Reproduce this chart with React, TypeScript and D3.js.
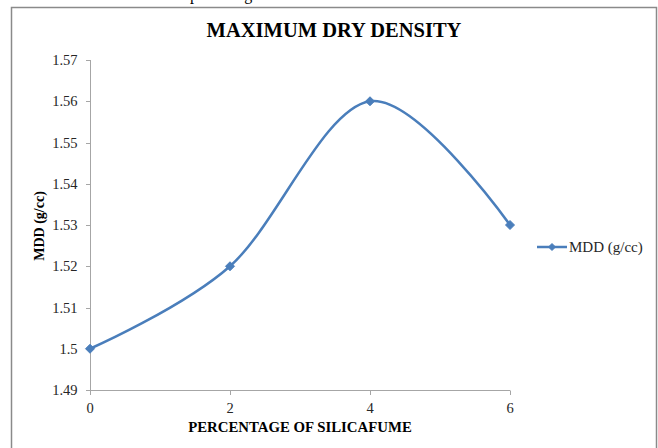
import React from "react";
import * as d3 from "d3";

const xValues = [0, 2, 4, 6];
const mddValues = [1.5, 1.52, 1.56, 1.53];
const yTicks = [1.49, 1.5, 1.51, 1.52, 1.53, 1.54, 1.55, 1.56, 1.57];
const xTicks = [0, 2, 4, 6];
const chartTitle = "MAXIMUM DRY DENSITY";
const xTitle = "PERCENTAGE OF SILICAFUME";
const yTitle = "MDD (g/cc)";
const seriesName = "MDD (g/cc)";
const pageText = "percentage";

const W = 658;
const H = 448;
const color = "#4A7EBB";
const font = "'Liberation Serif', 'Times New Roman', serif";

function Diamond({ cx, cy, r }: { cx: number; cy: number; r: number }) {
  return (
    <path
      d={`M${cx},${cy - r}L${cx + r},${cy}L${cx},${cy + r}L${cx - r},${cy}Z`}
      fill={color}
      stroke={color}
      strokeWidth={1}
    />
  );
}

export default function App() {
  const x = d3.scaleLinear().domain([0, 6]).range([90, 510]);
  const y = d3.scaleLinear().domain([1.49, 1.57]).range([390, 60]);
  const pts: [number, number][] = xValues.map((v, i) => [x(v), y(mddValues[i])]);
  const line = d3.line().curve(d3.curveCardinal.tension(0))(pts) || "";

  return (
    <svg
      width={W}
      height={H}
      style={{ position: "absolute", left: 0, top: 0, background: "#fff" }}
      fontFamily={font}
    >
      <text x={190} y={-0.5} fontSize={16} fill="#000">{pageText}</text>
      <rect x={11.5} y={7.5} width={645} height={460} fill="#fff" stroke="#8a8a8a" strokeWidth={1.5} />
      <text x={334} y={37} textAnchor="middle" fontSize={20.5} fontWeight="bold" fill="#000">
        {chartTitle}
      </text>
      {/* y axis */}
      <line x1={90.5} x2={90.5} y1={y(1.57)} y2={y(1.49)} stroke="#a6a6a6" strokeWidth={1} />
      {yTicks.map((t) => (
        <g key={t}>
          <line x1={86} x2={90.5} y1={Math.round(y(t)) + 0.5} y2={Math.round(y(t)) + 0.5} stroke="#a6a6a6" />
          <text x={77.5} y={y(t) + 5} textAnchor="end" fontSize={14.5} fill="#262626">
            {String(t)}
          </text>
        </g>
      ))}
      {/* x axis */}
      <line x1={x(0)} x2={x(6)} y1={390.5} y2={390.5} stroke="#a6a6a6" strokeWidth={1} />
      {xTicks.map((t) => (
        <g key={t}>
          <line x1={Math.round(x(t)) + 0.5} x2={Math.round(x(t)) + 0.5} y1={390.5} y2={395} stroke="#a6a6a6" />
          <text x={x(t)} y={413} textAnchor="middle" fontSize={14.5} fill="#262626">
            {t}
          </text>
        </g>
      ))}
      <text x={300} y={432} textAnchor="middle" fontSize={14.8} fontWeight="bold" fill="#000">
        {xTitle}
      </text>
      <text
        transform={`translate(44,226) rotate(-90)`}
        textAnchor="middle"
        fontSize={14}
        fontWeight="bold"
        fill="#000"
      >
        {yTitle}
      </text>
      <path d={line} fill="none" stroke={color} strokeWidth={2.5} strokeLinejoin="round" />
      {pts.map(([px, py], i) => (
        <Diamond key={i} cx={px} cy={py} r={4.5} />
      ))}
      {/* legend */}
      <line x1={537} x2={567} y1={247} y2={247} stroke={color} strokeWidth={2.5} />
      <Diamond cx={552} cy={247} r={3.5} />
      <text x={569} y={252} fontSize={15} fill="#262626">
        {seriesName}
      </text>
    </svg>
  );
}
